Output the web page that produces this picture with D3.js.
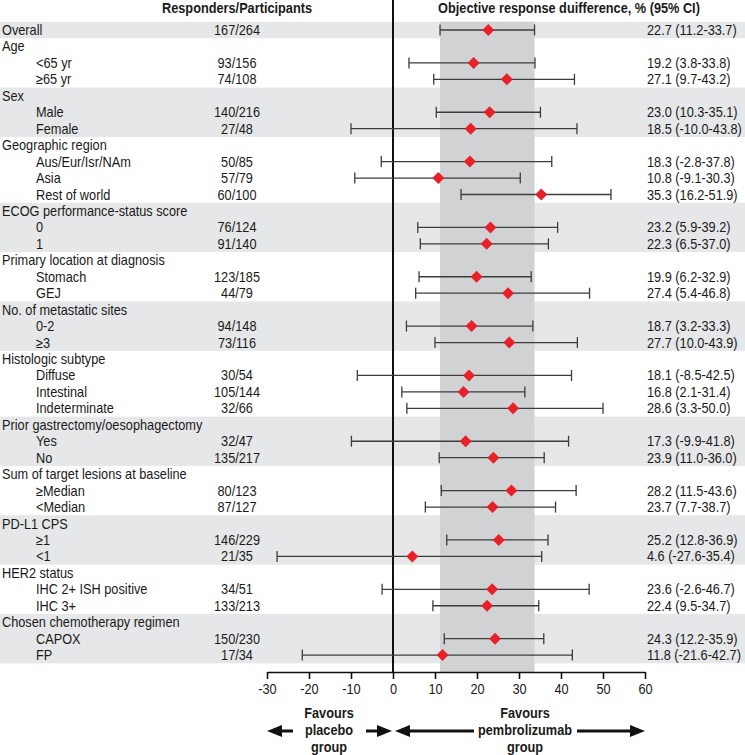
<!DOCTYPE html>
<html>
<head>
<meta charset="utf-8">
<script src="https://cdn.jsdelivr.net/npm/d3@7"></script>
<style>
  html, body { margin: 0; padding: 0; background: #fff; }
  svg { display: block; }
  text { font-family: "Liberation Sans", Arial, sans-serif; fill: #1a1a1a; }
</style>
</head>
<body>
<svg id="chart" width="745" height="755"></svg>
<script>
const rowLabels = ["Overall","Age","<65 yr","≥65 yr","Sex","Male","Female","Geographic region","Aus/Eur/Isr/NAm","Asia","Rest of world","ECOG performance-status score","0","1","Primary location at diagnosis","Stomach","GEJ","No. of metastatic sites","0-2","≥3","Histologic subtype","Diffuse","Intestinal","Indeterminate","Prior gastrectomy/oesophagectomy","Yes","No","Sum of target lesions at baseline","≥Median","<Median","PD-L1 CPS","≥1","<1","HER2 status","IHC 2+ ISH positive","IHC 3+","Chosen chemotherapy regimen","CAPOX","FP"];
const rowIndent = [0,0,1,1,0,1,1,0,1,1,1,0,1,1,0,1,1,0,1,1,0,1,1,1,0,1,1,0,1,1,0,1,1,0,1,1,0,1,1];
const groupSizes = [1,3,3,4,3,3,3,4,3,3,3,3,3];
const counts = ["167/264","","93/156","74/108","","140/216","27/48","","50/85","57/79","60/100","","76/124","91/140","","123/185","44/79","","94/148","73/116","","30/54","105/144","32/66","","32/47","135/217","","80/123","87/127","","146/229","21/35","","34/51","133/213","","150/230","17/34"];
const estimates = [22.7,null,19.2,27.1,null,23.0,18.5,null,18.3,10.8,35.3,null,23.2,22.3,null,19.9,27.4,null,18.7,27.7,null,18.1,16.8,28.6,null,17.3,23.9,null,28.2,23.7,null,25.2,4.6,null,23.6,22.4,null,24.3,11.8];
const lowerCI = [11.2,null,3.8,9.7,null,10.3,-10.0,null,-2.8,-9.1,16.2,null,5.9,6.5,null,6.2,5.4,null,3.2,10.0,null,-8.5,2.1,3.3,null,-9.9,11.0,null,11.5,7.7,null,12.8,-27.6,null,-2.6,9.5,null,12.2,-21.6];
const upperCI = [33.7,null,33.8,43.2,null,35.1,43.8,null,37.8,30.3,51.9,null,39.2,37.0,null,32.9,46.8,null,33.3,43.9,null,42.5,31.4,50.0,null,41.8,36.0,null,43.6,38.7,null,36.9,35.4,null,46.7,34.7,null,35.9,42.7];
const xTicks = [-30,-20,-10,0,10,20,30,40,50,60];
const headerLeft = "Responders/Participants";
const headerRight = "Objective response duifference, % (95% CI)";
const favoursLeft = ["Favours","placebo","group"];
const favoursRight = ["Favours","pembrolizumab","group"];

const svg = d3.select("#chart");
const W = 745;
const FS = 14;
const SX = 0.91; // condensed look

const x = d3.scaleLinear().domain([-30, 60]).range([267, 645]);
const y = d3.scaleLinear().domain([0, rowLabels.length - 1]).range([30, 655.1]);
const rowH = y(1) - y(0);
const axisY = 672;

function txt(tx, ty, s, anchor, bold) {
  return svg.append("text")
    .attr("transform", `translate(${tx},${ty}) scale(${SX},1)`)
    .attr("text-anchor", anchor || "start")
    .attr("font-weight", bold ? "bold" : null)
    .attr("font-size", FS).text(s);
}

// group bands
let start = 0;
groupSizes.forEach((n, gi) => {
  if (gi % 2 === 0) {
    svg.append("rect")
      .attr("x", 0).attr("width", W)
      .attr("y", y(start - 0.5)).attr("height", n * rowH)
      .attr("fill", "#e6e7e8");
  }
  start += n;
});

// overall CI shade
svg.append("rect")
  .attr("x", x(lowerCI[0])).attr("width", x(upperCI[0]) - x(lowerCI[0]))
  .attr("y", y(-0.5)).attr("height", axisY - y(-0.5))
  .attr("fill", "#d1d2d4");

// zero line
svg.append("line")
  .attr("x1", x(0)).attr("x2", x(0)).attr("y1", 0).attr("y2", axisY)
  .attr("stroke", "#111").attr("stroke-width", 2);

// headers
txt(237, 13, headerLeft, "middle", true);
txt(569, 13, headerRight, "middle", true);

// row texts
const rows = rowLabels.map((l, i) => ({ l, i, indent: rowIndent[i], c: counts[i], e: estimates[i], lo: lowerCI[i], hi: upperCI[i] }));
rows.forEach(d => {
  txt(d.indent ? 36 : 2, y(d.i) + 5, d.l, "start");
  if (d.c) txt(237, y(d.i) + 5, d.c, "middle");
  if (d.e !== null) txt(647, y(d.i) + 5, `${d.e.toFixed(1)} (${d.lo.toFixed(1)}-${d.hi.toFixed(1)})`, "start");
});

// error bars
const pts = rows.filter(d => d.e !== null);
const eb = svg.append("g").attr("stroke", "#3c3c3c").attr("stroke-width", 1.3);
eb.selectAll("line.h").data(pts).join("line").attr("class", "h")
  .attr("x1", d => x(d.lo)).attr("x2", d => x(d.hi)).attr("y1", d => y(d.i)).attr("y2", d => y(d.i));
eb.selectAll("line.cl").data(pts).join("line").attr("class", "cl")
  .attr("x1", d => x(d.lo)).attr("x2", d => x(d.lo)).attr("y1", d => y(d.i) - 5.5).attr("y2", d => y(d.i) + 5.5);
eb.selectAll("line.cr").data(pts).join("line").attr("class", "cr")
  .attr("x1", d => x(d.hi)).attr("x2", d => x(d.hi)).attr("y1", d => y(d.i) - 5.5).attr("y2", d => y(d.i) + 5.5);

// diamonds
svg.selectAll("path.dia").data(pts).join("path").attr("class", "dia")
  .attr("d", d => { const cx = x(d.e), cy = y(d.i), r = 6; return `M${cx},${cy - r}L${cx + r},${cy}L${cx},${cy + r}L${cx - r},${cy}Z`; })
  .attr("fill", "#e8202a");

// axis
const ax = svg.append("g").attr("transform", `translate(0,${axisY})`)
  .call(d3.axisBottom(x).tickValues(xTicks).tickFormat(d => String(d)).tickSize(7).tickSizeOuter(0).tickPadding(5));
ax.select(".domain").attr("stroke", "#111").attr("stroke-width", 1.6);
ax.selectAll(".tick line").attr("stroke", "#111").attr("stroke-width", 1.6);
ax.selectAll(".tick text").attr("font-size", FS).attr("font-family", null).attr("fill", "#1a1a1a")
  .attr("transform", `scale(${SX},1)`);

// favours text
function favours(lines, cx) {
  lines.forEach((t, k) => txt(cx, 718 + k * 17, t, "middle", true));
}
favours(favoursLeft, 329);
favours(favoursRight, 525);

// arrows
const arrowY = 731;
function arrowHead(tipX, dir) {
  const L = 15, h = 6;
  svg.append("path").attr("d", `M${tipX},${arrowY}L${tipX - dir * L},${arrowY - h}L${tipX - dir * L},${arrowY + h}Z`).attr("fill", "#111");
}
function seg(x1, x2) {
  svg.append("line").attr("x1", x1).attr("x2", x2).attr("y1", arrowY).attr("y2", arrowY).attr("stroke", "#111").attr("stroke-width", 3);
}
arrowHead(x(-30), -1); seg(x(-30) + 10, 293);
seg(366, x(0) - 10); arrowHead(x(0) - 1, 1);
arrowHead(x(0) + 2, -1); seg(x(0) + 12, 474);
seg(577, x(60) - 10); arrowHead(x(60), 1);
</script>
</body>
</html>
